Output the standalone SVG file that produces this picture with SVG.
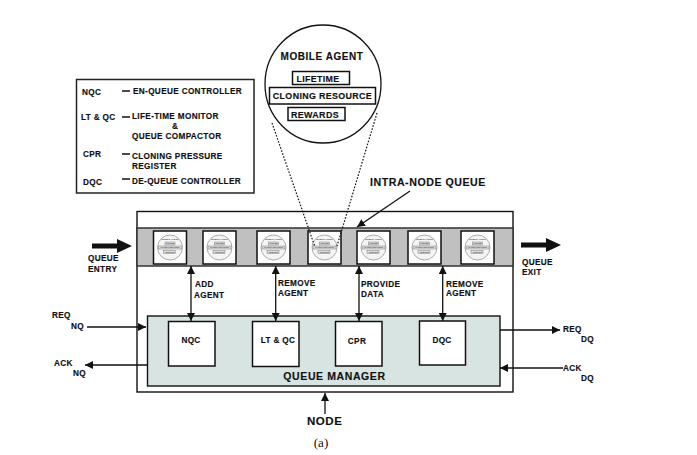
<svg xmlns="http://www.w3.org/2000/svg" width="697" height="455" viewBox="0 0 697 455">
<style>
text{font-family:"Liberation Sans",Arial,sans-serif;font-weight:bold;font-size:8.2px;fill:#111;letter-spacing:.35px;stroke:#111;stroke-width:.15px}
.b{fill:#fff;stroke:#111;stroke-width:1.5}
.l{fill:none;stroke:#111;stroke-width:1.3}
.d{fill:none;stroke:#111;stroke-width:1.2;stroke-dasharray:1.6 1.6}
.big{font-size:10.5px;letter-spacing:.6px}
.m{font-size:10px;letter-spacing:.55px}
.t{font-size:8.9px}
.tiny{stroke:none}
</style>
<defs>
<marker id="a" markerWidth="9" markerHeight="8" refX="8" refY="4" orient="auto-start-reverse" markerUnits="userSpaceOnUse"><path d="M0 0L8 4L0 8Z" fill="#111"/></marker>
<g id="agent">
<rect class="b" width="33" height="33"/>
<circle cx="16.500" cy="16.500" r="12.500" fill="#f4f4f4" stroke="#777" stroke-width=".6"/>
<text class="tiny" x="16.500" y="9" text-anchor="middle" style="font-size:2.2px;letter-spacing:0;fill:#444">MOBILE AGENT</text>
<rect x="11.500" y="11" width="10" height="3" fill="#ddd" stroke="#666" stroke-width=".4"/>
<text class="tiny" x="16.500" y="13.300" text-anchor="middle" style="font-size:1.8px;letter-spacing:0;fill:#444">LIFETIME</text>
<rect x="5" y="15" width="23" height="3" fill="#ddd" stroke="#666" stroke-width=".4"/>
<text class="tiny" x="16.500" y="17.200" text-anchor="middle" style="font-size:1.8px;letter-spacing:0;fill:#444">CLONING RESOURCE</text>
<rect x="10" y="19.500" width="12" height="3" fill="#ddd" stroke="#666" stroke-width=".4"/>
<text class="tiny" x="16.500" y="21.700" text-anchor="middle" style="font-size:1.8px;letter-spacing:0;fill:#444">REWARDS</text>
</g>
</defs>
<rect width="697" height="455" fill="#fff"/>

<g id="legend">
<rect x="76.500" y="79.500" width="177.500" height="113.500" fill="#fff" stroke="#222" stroke-width="1.5"/>
<text x="82" y="95">NQC</text><text x="133" y="94">EN-QUEUE CONTROLLER</text>
<text x="81" y="120">LT &amp; QC</text><text x="132" y="119">LIFE-TIME MONITOR</text>
<text x="172" y="129">&amp;</text><text x="132" y="139">QUEUE COMPACTOR</text>
<text x="83" y="157">CPR</text><text x="132" y="159">CLONING PRESSURE</text><text x="132" y="169">REGISTER</text>
<text x="83" y="185">DQC</text><text x="132" y="184">DE-QUEUE CONTROLLER</text>
<path class="l" d="M122 91H130M122 117H130M122 154H130M122 179H130"/>
</g>

<g id="node-box"><rect x="137" y="211.500" width="376" height="180.500" fill="#fff" stroke="#111" stroke-width="1.4"/></g>
<g id="queue"><rect x="137" y="228" width="376" height="38" fill="#c0c0c0" stroke="#333" stroke-width="1.5"/></g>
<g id="agent-1"><use href="#agent" x="153.500" y="231"/></g>
<g id="agent-2"><use href="#agent" x="203" y="231"/></g>
<g id="agent-3"><use href="#agent" x="257" y="231"/></g>
<g id="agent-4"><use href="#agent" x="308" y="231"/></g>
<g id="agent-5"><use href="#agent" x="357" y="231"/></g>
<g id="agent-6"><use href="#agent" x="408" y="231"/></g>
<g id="agent-7"><use href="#agent" x="461" y="231"/></g>

<g id="queue-manager">
<rect x="147.500" y="316" width="352.500" height="70" fill="#d8e4e2" stroke="#111" stroke-width="1.4"/>
<text class="big" x="334.500" y="380" text-anchor="middle">QUEUE MANAGER</text>
</g>
<g id="nqc"><rect class="b" x="168.500" y="321.500" width="46.500" height="44.500"/><text x="191" y="343" text-anchor="middle">NQC</text></g>
<g id="ltqc"><rect class="b" x="252.500" y="321.500" width="46.500" height="45"/><text x="278" y="343" text-anchor="middle">LT &amp; QC</text></g>
<g id="cpr"><rect class="b" x="335.500" y="321.500" width="46.500" height="44.500"/><text x="357" y="344" text-anchor="middle">CPR</text></g>
<g id="dqc"><rect class="b" x="419.500" y="321" width="46" height="44"/><text x="442" y="343" text-anchor="middle">DQC</text></g>

<g id="connectors">
<path class="l" marker-start="url(#a)" marker-end="url(#a)" d="M191 266V321"/>
<path class="l" marker-start="url(#a)" marker-end="url(#a)" d="M275.700 266V321"/>
<path class="l" marker-start="url(#a)" marker-end="url(#a)" d="M359 266V321"/>
<path class="l" marker-start="url(#a)" marker-end="url(#a)" d="M442.700 266V321"/>
<path class="l" marker-end="url(#a)" d="M87 327H146"/>
<path class="l" marker-end="url(#a)" d="M147 365H85"/>
<path class="l" marker-end="url(#a)" d="M500 330H560"/>
<path class="l" marker-end="url(#a)" d="M563 368H500"/>
<path class="l" marker-end="url(#a)" d="M325 414V393"/>
<path class="l" marker-end="url(#a)" d="M410 191L357 227"/>
<path fill="#111" d="M92 243.500H117V239L132 246L117 253V248.500H92Z"/>
<path fill="#111" d="M521 242.500H546V238L561 245L546 252V247.500H521Z"/>
<path class="d" d="M272 123L315 247"/>
<path class="d" d="M377 113L337 246"/>
</g>

<g id="labels">
<text x="88" y="261">QUEUE</text><text x="88" y="272">ENTRY</text>
<text x="522" y="265">QUEUE</text><text x="522" y="275">EXIT</text>
<text x="195" y="287">ADD</text><text x="194" y="298">AGENT</text>
<text x="278" y="286">REMOVE</text><text x="278" y="296">AGENT</text>
<text x="361" y="287">PROVIDE</text><text x="361" y="297">DATA</text>
<text x="446" y="287">REMOVE</text><text x="446" y="296">AGENT</text>
<text x="52" y="318">REQ</text><text x="71" y="329">NQ</text>
<text x="54" y="366">ACK</text><text x="73" y="376">NQ</text>
<text x="563" y="332">REQ</text><text x="581" y="342">DQ</text>
<text x="563" y="371">ACK</text><text x="581" y="381">DQ</text>
<text class="m" x="307" y="425" style="font-size:11.5px">NODE</text>
<text class="m" x="370" y="186" style="font-size:10.6px">INTRA-NODE QUEUE</text>
<text x="321" y="447" text-anchor="middle" style="font-family:'Liberation Serif',serif;font-weight:normal;font-size:13px;letter-spacing:0;stroke:none">(a)</text>
</g>

<g id="mobile-agent">
<ellipse cx="323" cy="84" rx="58" ry="59" fill="#fff" stroke="#111" stroke-width="1.3"/>
<text class="m" x="322" y="60" text-anchor="middle">MOBILE AGENT</text>
<rect class="b" x="292.500" y="71.500" width="57" height="13"/>
<text class="t" x="318" y="82" text-anchor="middle">LIFETIME</text>
<rect class="b" x="269.500" y="87.500" width="106" height="16.500"/>
<text class="t" x="322.500" y="99" text-anchor="middle">CLONING RESOURCE</text>
<rect class="b" x="288" y="107.500" width="57" height="13"/>
<text class="t" x="315" y="118" text-anchor="middle">REWARDS</text>
</g>
</svg>
